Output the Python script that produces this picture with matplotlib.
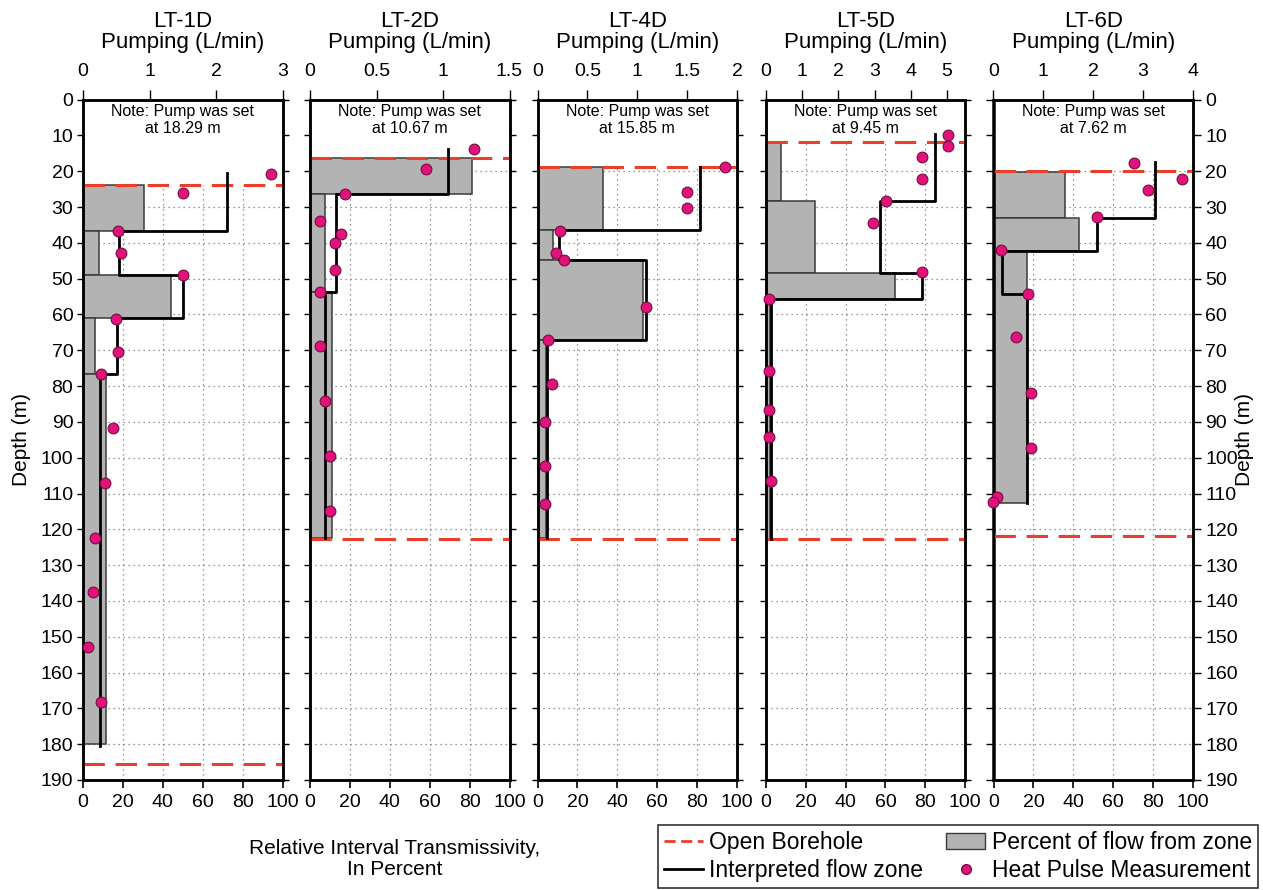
import matplotlib.pyplot as plt
from matplotlib.lines import Line2D
from matplotlib.patches import Patch
from matplotlib.ticker import FuncFormatter

plt.rcParams["font.family"] = ["Liberation Sans", "DejaVu Sans"]

WELLS = ["LT-1D", "LT-2D", "LT-4D", "LT-5D", "LT-6D"]
PUMP_SET = ["18.29", "10.67", "15.85", "9.45", "7.62"]
PUMP_MAX = [3, 1.5, 2, 5.5, 4]
PUMP_TICKS = [
    [0, 1, 2, 3],
    [0, 0.5, 1, 1.5],
    [0, 0.5, 1, 1.5, 2],
    [0, 1, 2, 3, 4, 5],
    [0, 1, 2, 3, 4],
]
OPEN_TOP = [23.8, 16.2, 18.9, 11.9, 20.0]
OPEN_BOTTOM = [185.4, 122.8, 122.8, 122.8, 121.8]

# percent of flow from zone (bottom axis): zone boundaries in m, percent per zone
ZONE_DEPTHS = [
    [23.8, 36.7, 49.0, 61.1, 76.5, 180.0],
    [16.2, 26.4, 53.7, 122.4],
    [18.9, 36.4, 44.8, 67.2, 122.4],
    [11.9, 28.3, 48.3, 55.8, 122.6],
    [20.2, 33.0, 42.2, 112.6],
]
ZONE_PERCENT = [
    [30.5, 8.0, 44.3, 5.8, 11.7],
    [81.0, 7.5, 11.2],
    [33.0, 8.0, 53.0, 4.5],
    [7.7, 24.8, 65.0, 2.0],
    [36.0, 43.0, 16.6],
]

# interpreted flow zone (top axis, L/min)
FLOW_DEPTHS = [
    [20.5, 36.7, 49.0, 61.1, 76.5, 180.5],
    [13.8, 26.4, 53.7, 122.4],
    [18.9, 36.4, 44.8, 67.2, 122.4],
    [9.7, 28.3, 48.3, 55.8, 122.6],
    [17.3, 33.0, 42.2, 54.3, 112.6],
]
FLOW_RATE = [
    [2.17, 0.54, 1.5, 0.51, 0.26],
    [1.04, 0.195, 0.11],
    [1.63, 0.22, 1.09, 0.10],
    [4.66, 3.16, 4.32, 0.14],
    [3.24, 2.08, 0.165, 0.68],
]

# heat pulse measurements (top axis, L/min)
PULSE_DEPTH = [
    [20.8, 26.0, 36.8, 42.9, 49.0, 61.2, 70.5, 76.5, 91.7, 107.1, 122.5, 137.6, 152.9, 168.2],
    [13.9, 19.5, 26.3, 33.8, 37.5, 40.1, 47.6, 53.6, 68.9, 84.3, 99.6, 114.8],
    [18.9, 25.9, 30.4, 36.6, 42.8, 44.9, 57.9, 67.2, 79.4, 90.1, 102.3, 113.0],
    [9.9, 13.0, 16.1, 22.2, 28.3, 34.5, 48.2, 55.8, 75.8, 86.6, 94.2, 106.4],
    [17.6, 22.3, 25.3, 32.9, 42.1, 54.3, 66.4, 81.9, 97.2, 110.9, 112.5],
]
PULSE_RATE = [
    [2.82, 1.5, 0.53, 0.57, 1.5, 0.49, 0.53, 0.27, 0.45, 0.33, 0.18, 0.15, 0.075, 0.27],
    [1.23, 0.87, 0.26, 0.075, 0.23, 0.19, 0.19, 0.075, 0.075, 0.11, 0.15, 0.15],
    [1.875, 1.5, 1.5, 0.225, 0.185, 0.265, 1.09, 0.108, 0.148, 0.075, 0.075, 0.075],
    [5.02, 5.02, 4.3, 4.3, 3.32, 2.97, 4.3, 0.09, 0.09, 0.09, 0.09, 0.14],
    [2.82, 3.77, 3.1, 2.07, 0.15, 0.69, 0.45, 0.75, 0.75, 0.08, 0.0],
]

RED = "#e8402a"
GRAY = "#b3b3b3"
MAGENTA = "#e2127c"

W, H = 1263, 890
LEFTS = [83, 310, 537.5, 765.7, 993.5]
AX_W = 199.5
AX_TOP, AX_BOT = 99.6, 780

fig = plt.figure(figsize=(W / 100, H / 100), dpi=100)

for i, well in enumerate(WELLS):
    ax = fig.add_axes([LEFTS[i] / W, 1 - AX_BOT / H, AX_W / W, (AX_BOT - AX_TOP) / H])
    ax.set_xlim(0, 100)
    ax.set_ylim(190, 0)
    ax.set_axisbelow(True)
    ax.grid(True, color="#777777", linestyle=(0, (1, 3)), linewidth=0.9)
    ax.set_xticks(range(0, 101, 20))
    ax.set_yticks(range(0, 191, 10))
    ax.tick_params(axis="x", direction="out", length=6, width=1.2, labelsize=14, pad=4)
    ax.tick_params(axis="y", direction="out", length=4, width=1.0, labelsize=14,
                   left=True, right=True, labelleft=(i == 0), labelright=(i == 4), pad=3)
    if i == 4:
        ax.tick_params(axis="y", length=6)
    for sp in ax.spines.values():
        sp.set_linewidth(1.8)

    # white note area above casing hides the grid
    ax.axhspan(0, OPEN_TOP[i], color="white", zorder=0.8, linewidth=0)

    d = ZONE_DEPTHS[i]
    heights = [d[k + 1] - d[k] for k in range(len(ZONE_PERCENT[i]))]
    ax.barh(d[:-1], ZONE_PERCENT[i], height=heights, left=0, align="edge",
            color=GRAY, edgecolor="#3a3a3a", linewidth=1.1, zorder=1.5)

    ax.axhline(OPEN_TOP[i], color=RED, linestyle=(0, (7, 3.5)), linewidth=2.2, zorder=3)
    ax.axhline(OPEN_BOTTOM[i], color=RED, linestyle=(0, (7, 3.5)), linewidth=2.2, zorder=3)

    ax.text(50, 1.2, f"Note: Pump was set\nat {PUMP_SET[i]} m", ha="center", va="top",
            fontsize=11.5, linespacing=1.15, zorder=4)

    top = ax.twiny()
    top.set_xlim(0, PUMP_MAX[i])
    top.set_ylim(190, 0)
    top.set_xticks(PUMP_TICKS[i])
    top.xaxis.set_major_formatter(FuncFormatter(lambda v, p: f"{v:g}"))
    top.tick_params(axis="x", direction="out", length=7, width=1.0, labelsize=14, pad=7)
    for sp in top.spines.values():
        sp.set_linewidth(1.8)
    top.set_xlabel(f"{well}\nPumping (L/min)", fontsize=16, labelpad=11, linespacing=1.0)

    fd, fr = FLOW_DEPTHS[i], FLOW_RATE[i]
    xs, ys = [], []
    for k, rate in enumerate(fr):
        xs += [rate, rate]
        ys += [fd[k], fd[k + 1]]
    top.plot(xs, ys, color="black", linewidth=2.0, zorder=4)

    top.scatter(PULSE_RATE[i], PULSE_DEPTH[i], s=60, color=MAGENTA,
                edgecolor="#7a0a3c", linewidth=0.8, zorder=5, clip_on=False)

fig.text(22 / W, 1 - 440 / H, "Depth (m)", rotation=90, ha="center", va="center", fontsize=15)
fig.text(1245 / W, 1 - 440 / H, "Depth (m)", rotation=90, ha="center", va="center", fontsize=15)
fig.text(395 / W, 1 - 859 / H, "Relative Interval Transmissivity,\nIn Percent",
         ha="center", va="center", fontsize=15, linespacing=1.15)

handles = [
    Line2D([], [], color=RED, linestyle=(0, (4, 2)), linewidth=2),
    Line2D([], [], color="black", linewidth=2),
    Patch(facecolor=GRAY, edgecolor="#3a3a3a", linewidth=1),
    Line2D([], [], linestyle="none", marker="o", markersize=7, color=MAGENTA,
           markeredgecolor="#7a0a3c"),
]
labels = ["Open Borehole", "Interpreted flow zone", "Percent of flow from zone",
          "Heat Pulse Measurement"]
leg = fig.legend(handles, labels, ncol=2, loc="lower right",
                 bbox_to_anchor=(1258 / W, 2 / H), fontsize=16.5, frameon=True,
                 fancybox=False, borderpad=0.25, handlelength=1.7, handletextpad=0.3,
                 columnspacing=1.0, labelspacing=0.25, borderaxespad=0)
leg.get_frame().set_edgecolor("black")
leg.get_frame().set_linewidth(1.2)

fig.savefig("out.png", dpi=100)
